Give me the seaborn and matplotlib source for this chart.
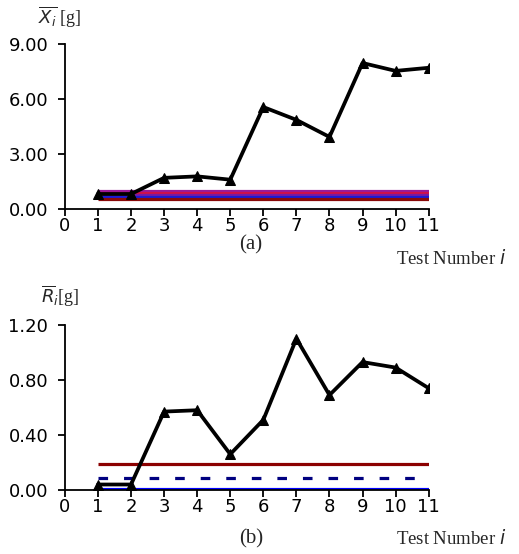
import matplotlib
matplotlib.use("Agg")
import matplotlib.pyplot as plt
import seaborn as sns
import numpy as np
import pandas as pd
from matplotlib.ticker import FormatStrFormatter

sns.set_theme(style="ticks")
plt.rcParams['font.family'] = ['DejaVu Sans']

tests = [1, 2, 3, 4, 5, 6, 7, 8, 9, 10, 11]
xbar = [0.82, 0.82, 1.70, 1.78, 1.60, 5.56, 4.86, 3.93, 7.96, 7.53, 7.70]
rbar = [0.04, 0.04, 0.57, 0.58, 0.26, 0.51, 1.10, 0.69, 0.93, 0.89, 0.74]

# control limit lines for (a): value, colour
xa_limits = [1.00, 0.90, 0.78, 0.68, 0.56]
xa_colors = ["#9a1a9a", "#d0104a", "#7a1aa0", "#1a1ad8", "#8a0a0a"]
# control limit lines for (b)
rb_ucl = 0.19
rb_center = 0.087
rb_lcl = 0.0

fig = plt.figure(figsize=(5.19, 5.54), dpi=100)
ax1 = fig.add_axes([0.125, 0.6227, 0.701, 0.298])
ax2 = fig.add_axes([0.125, 0.1155, 0.701, 0.298])

def style(ax, ymax, yticks):
    ax.set_xlim(0, 11)
    ax.set_ylim(0, ymax)
    ax.set_xticks(range(0, 12))
    ax.set_yticks(yticks)
    ax.yaxis.set_major_formatter(FormatStrFormatter('%.2f'))
    for s in ['top', 'right']:
        ax.spines[s].set_visible(False)
    for s in ['left', 'bottom']:
        ax.spines[s].set_color('black')
        ax.spines[s].set_linewidth(1.3)
    ax.tick_params(direction='out', length=5, width=1.3, colors='black',
                   labelsize=13)
    ax.tick_params(axis='y', pad=7)
    ax.tick_params(axis='x', pad=1)
    ax.set_xlabel('')
    ax.set_ylabel('')

# (a)
for v, c in zip(xa_limits, xa_colors):
    ax1.hlines(v, 1, 11, colors=c, linewidth=2.3, zorder=2)
sns.lineplot(x=tests, y=xbar, ax=ax1, color='black', linewidth=2.7,
             marker='^', markersize=7, markeredgecolor='black', zorder=3)
style(ax1, 9, [0, 3, 6, 9])

# (b)
ax2.hlines(rb_ucl, 1, 11, colors='#8b0000', linewidth=2.3, zorder=2)
ax2.hlines(rb_center, 1, 11, colors='#000080', linewidth=2.3,
           linestyles=(0, (3, 5)), zorder=2)
ax2.hlines(rb_lcl, 1, 11, colors='#0000ff', linewidth=3.0, zorder=2)
sns.lineplot(x=tests, y=rbar, ax=ax2, color='black', linewidth=2.7,
             marker='^', markersize=7, markeredgecolor='black', zorder=3)
style(ax2, 1.2, [0, 0.4, 0.8, 1.2])

serif = ['Liberation Serif', 'DejaVu Serif']
fig.text(60/519, 1-17/554, r'$\overline{X_i}$ [g]', family=serif, fontsize=13,
         ha='center', va='center')
fig.text(60/519, 1-296/554, r'$\overline{R}_i$[g]', family=serif, fontsize=13,
         ha='center', va='center')
fig.text(251/519, 1-245/554, '(a)', family=serif, fontsize=15, ha='center', va='center')
fig.text(251/519, 1-539/554, '(b)', family=serif, fontsize=15, ha='center', va='center')
fig.text(451/519, 1-258/554, 'Test Number $i$', family=serif, fontsize=13.5,
         ha='center', va='center')
fig.text(451/519, 1-538/554, 'Test Number $i$', family=serif, fontsize=13.5,
         ha='center', va='center')

fig.savefig('out.png', dpi=100)
